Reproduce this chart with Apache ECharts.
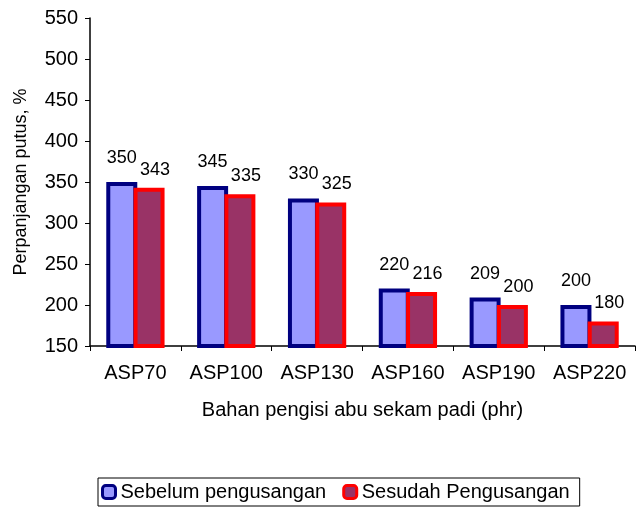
<!DOCTYPE html>
<html>
<head>
<meta charset="utf-8">
<script src="https://cdn.jsdelivr.net/npm/echarts@6/dist/echarts.min.js"></script>
<style>
  html, body { margin: 0; padding: 0; background: #fff; }
  #chart { width: 637px; height: 510px; }
</style>
</head>
<body>
<div id="chart"></div>
<script>
var categories = ['ASP70', 'ASP100', 'ASP130', 'ASP160', 'ASP190', 'ASP220'];
var sebelum = [350, 345, 330, 220, 209, 200];
var sesudah = [343, 335, 325, 216, 200, 180];
var seriesNames = ['Sebelum pengusangan', 'Sesudah Pengusangan'];

var chart = echarts.init(document.getElementById('chart'));
var font = 'Liberation Sans, Arial, sans-serif';

var option = {
  animation: false,
  textStyle: { fontFamily: font },
  grid: { left: 90, right: 2, top: 18, bottom: 164 },
  legend: {
    bottom: 4,
    left: 98,
    itemWidth: 13,
    itemHeight: 13,
    itemGap: 16,
    padding: [4, 10, 4, 3],
    borderColor: '#000',
    borderWidth: 1,
    borderRadius: 0,
    itemStyle: { borderWidth: 3 },
    textStyle: { fontSize: 20, color: '#000', fontFamily: font },
    data: seriesNames
  },
  xAxis: {
    type: 'category',
    data: categories,
    name: 'Bahan pengisi abu sekam padi (phr)',
    nameLocation: 'middle',
    nameGap: 54,
    nameTextStyle: { fontSize: 20, color: '#000' },
    axisLine: { lineStyle: { color: '#000', width: 1.5 } },
    axisTick: { show: true, length: 5, lineStyle: { color: '#000' } },
    axisLabel: { interval: 0, fontSize: 20, color: '#000', margin: 17 }
  },
  yAxis: {
    type: 'value',
    min: 150,
    max: 550,
    interval: 50,
    name: 'Perpanjangan putus, %',
    nameLocation: 'middle',
    nameGap: 60,
    nameTextStyle: { fontSize: 18, color: '#000' },
    axisLine: { show: true, lineStyle: { color: '#000', width: 1.5 } },
    axisTick: { show: true, length: 5, lineStyle: { color: '#000' } },
    axisLabel: { fontSize: 20, color: '#000', margin: 12 },
    splitLine: { show: false }
  },
  series: [
    {
      name: seriesNames[0],
      type: 'bar',
      data: sebelum,
      barWidth: 31,
      barGap: '-12%',
      itemStyle: { color: '#9999FF', borderColor: '#000080', borderWidth: 4 },
      label: { show: true, position: 'top', distance: 15, fontSize: 18, color: '#000' }
    },
    {
      name: seriesNames[1],
      type: 'bar',
      data: sesudah,
      barWidth: 31,
      itemStyle: { color: '#993366', borderColor: '#FF0000', borderWidth: 4 },
      label: { show: true, position: 'top', distance: 9, fontSize: 18, color: '#000', offset: [6, 0] }
    }
  ]
};
chart.setOption(option);
</script>
</body>
</html>
